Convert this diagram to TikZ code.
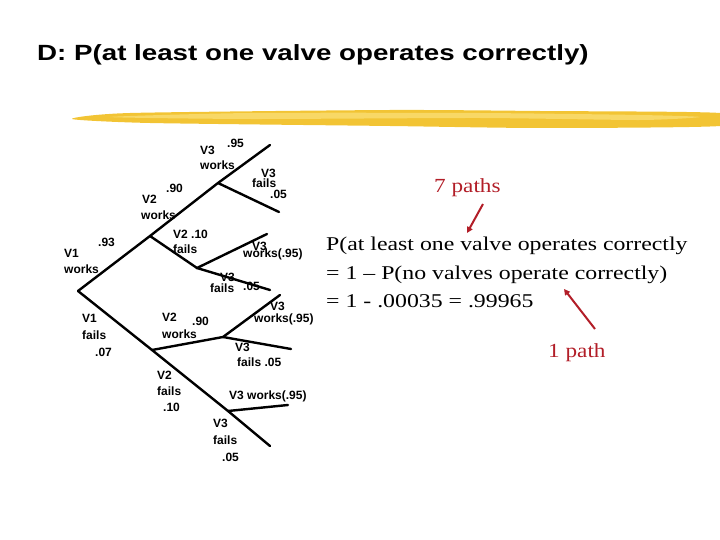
\documentclass[tikz,border=0pt]{standalone}
\usepackage{fontspec}
\setmainfont{Liberation Serif}
\newfontfamily\arialfont{Liberation Sans}
\usetikzlibrary{arrows.meta}
\definecolor{brush}{HTML}{F2C434}
\definecolor{brushlt}{HTML}{F8D866}
\definecolor{notered}{HTML}{B21E28}

\begin{document}
\begin{tikzpicture}[x=1pt,y=-1pt,
  lbl/.style={font=\arialfont\bfseries\fontsize{12}{12}\selectfont,inner sep=0pt,anchor=base west},
  eqn/.style={font=\fontsize{19.5}{20}\selectfont,inner sep=0pt,anchor=base west},
  note/.style={font=\fontsize{20}{20}\selectfont,text=notered,inner sep=0pt,anchor=base west},
  branch/.style={line width=2.4pt,line cap=round},
  pointer/.style={notered,line width=2pt,-{Triangle[length=6pt,width=6pt]}}]
\useasboundingbox (0,0) rectangle (720,540);

\node[font=\arialfont\bfseries\fontsize{22}{22}\selectfont,inner sep=0pt,anchor=base west] (title) at (37,61) {\scalebox{1.26}[1]{D: P(at least one valve operates correctly)}};

\fill[brush] plot[smooth cycle,tension=0.4] coordinates {(72,119) (130,113) (390,110) (540,111) (720,113) (720,126) (540,128) (390,126) (150,123)};
\fill[brushlt] plot[smooth cycle,tension=0.4] coordinates {(110,117) (250,113) (480,113) (640,115) (700,117) (640,120) (480,118) (250,119)};

\coordinate (r) at (78,291);
\coordinate (a) at (150,236);
\coordinate (b) at (218,183);
\coordinate (c) at (197,268);
\coordinate (d) at (152,350);
\coordinate (e) at (223,337);
\coordinate (f) at (228,411);
\coordinate (b1) at (270,145);
\coordinate (b2) at (279,212);
\coordinate (c1) at (267,234);
\coordinate (c2) at (270,290);
\coordinate (e1) at (280,295);
\coordinate (e2) at (291,349);
\coordinate (f1) at (288,405);
\coordinate (f2) at (270,446);

\draw[branch] (r) -- (a) -- (b) -- (b1);
\draw[branch] (b) -- (b2);
\draw[branch] (a) -- (c) -- (c1);
\draw[branch] (c) -- (c2);
\draw[branch] (r) -- (d) -- (f) -- (f2);
\draw[branch] (d) -- (e) -- (e1);
\draw[branch] (e) -- (e2);
\draw[branch] (f) -- (f1);

\node[lbl] (v3a) at (200,155) {V3};
\node[lbl] (p95a) at (227,148) {.95};
\node[lbl] (wka) at (200,170) {works};
\node[lbl] (v3b) at (261,178) {V3};
\node[lbl] (flb) at (252,188) {fails};
\node[lbl] (p05b) at (270,199) {.05};
\node[lbl] (p90a) at (166,193) {.90};
\node[lbl] (v2a) at (142,204) {V2};
\node[lbl] (wkv2a) at (141,220) {works};
\node[lbl] (v2b) at (173,239) {V2 .10};
\node[lbl] (flv2b) at (173,254) {fails};
\node[lbl] (p93) at (98,247) {.93};
\node[lbl] (v1a) at (64,258) {V1};
\node[lbl] (wkv1) at (64,273) {works};
\node[lbl] (v3c) at (252,250) {V3};
\node[lbl] (wkc) at (243,257) {works(.95)};
\node[lbl] (v3d) at (220,281) {V3};
\node[lbl] (fld) at (210,292) {fails};
\node[lbl] (p05d) at (243,290) {.05};
\node[lbl] (v3e) at (270,310) {V3};
\node[lbl] (wke) at (254,322) {works(.95)};
\node[lbl] (v1b) at (82,322) {V1};
\node[lbl] (flv1) at (82,339) {fails};
\node[lbl] (p07) at (95,356) {.07};
\node[lbl] (v2c) at (162,321) {V2};
\node[lbl] (p90c) at (192,325) {.90};
\node[lbl] (wkv2c) at (162,338) {works};
\node[lbl] (v3f) at (235,351) {V3};
\node[lbl] (flf) at (237,366) {fails .05};
\node[lbl] (v2d) at (157,379) {V2};
\node[lbl] (flv2d) at (157,395) {fails};
\node[lbl] (p10d) at (163,411) {.10};
\node[lbl] (wkg) at (229,399) {V3 works(.95)};
\node[lbl] (v3h) at (213,427) {V3};
\node[lbl] (flh) at (213,444) {fails};
\node[lbl] (p05h) at (222,461) {.05};

\node[eqn] (line1) at (326,250) {\scalebox{1.22}[1]{P(at least one valve operates correctly}};
\node[eqn] (line2) at (326,279) {\scalebox{1.22}[1]{= 1 -- P(no valves operate correctly)}};
\node[eqn] (line3) at (326,307) {\scalebox{1.22}[1]{= 1 - .00035 = .99965}};

\node[note] (seven) at (434,193) {\scalebox{1.16}[1]{7 paths}};
\node[note] (one) at (548,357) {\scalebox{1.16}[1]{1 path}};
\coordinate (sevtail) at (483,204);
\coordinate (sevtip) at (467,233);
\coordinate (onetail) at (595,329);
\coordinate (onetip) at (564,289);
\draw[pointer] (sevtail) -- (sevtip);
\draw[pointer] (onetail) -- (onetip);
\end{tikzpicture}
\end{document}
